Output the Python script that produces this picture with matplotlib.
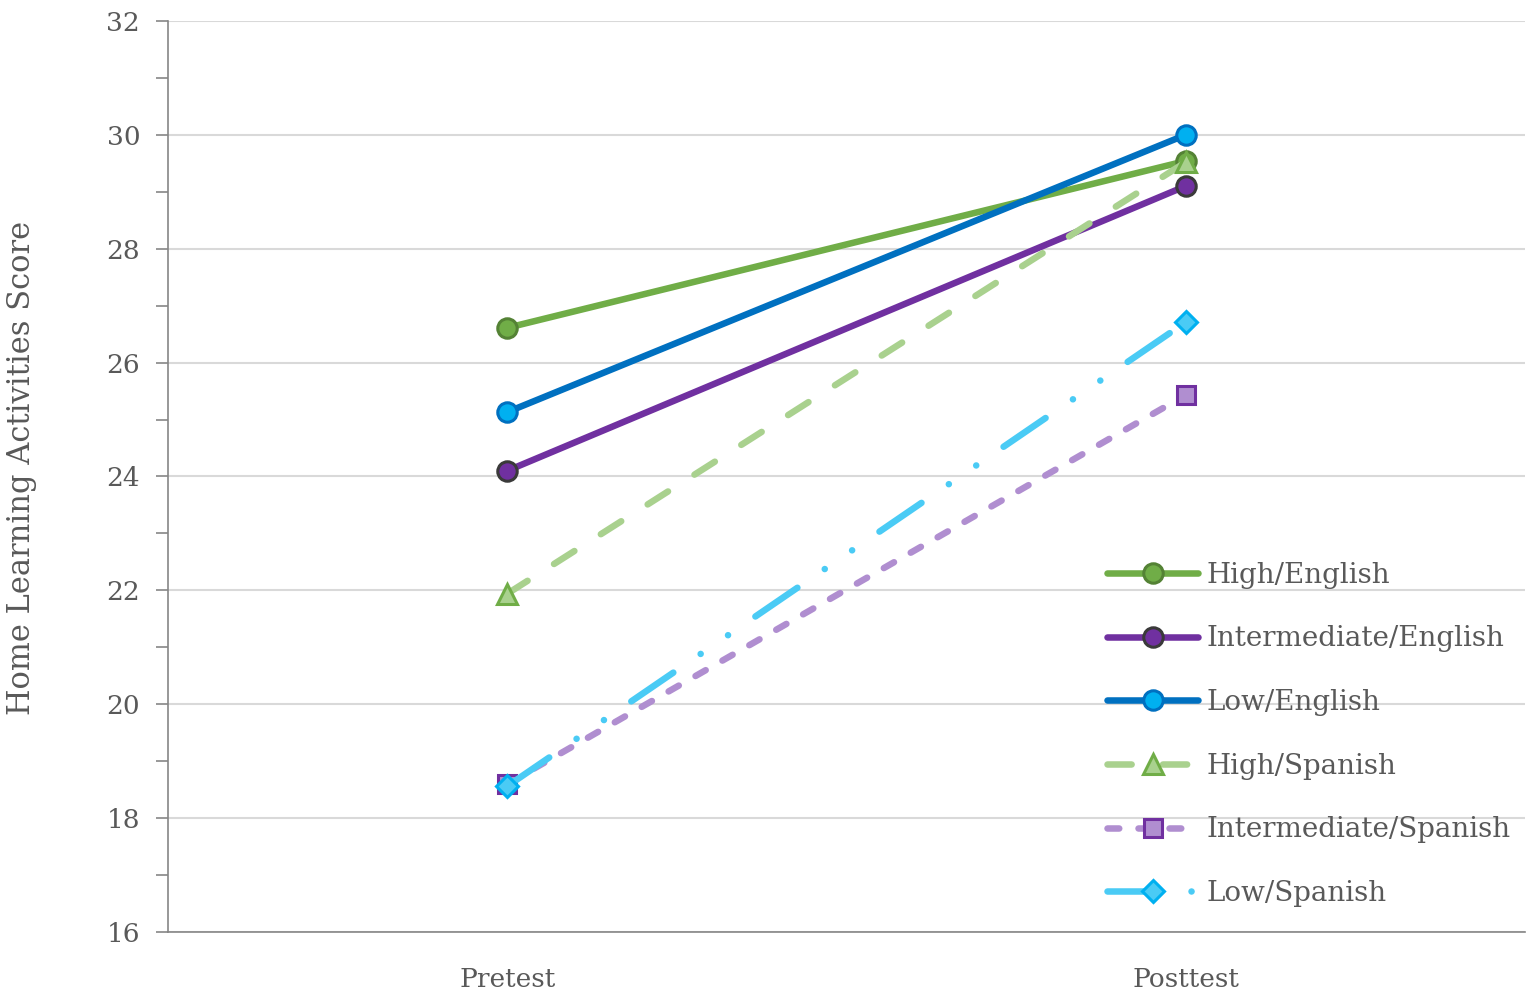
import matplotlib
matplotlib.use("Agg")
import matplotlib.pyplot as plt
from matplotlib.ticker import MultipleLocator

categories = ["Pretest", "Posttest"]
series_names = ["High/English", "Intermediate/English", "Low/English",
                "High/Spanish", "Intermediate/Spanish", "Low/Spanish"]
high_english = [26.61, 29.54]
intermediate_english = [24.10, 29.10]
low_english = [25.13, 30.00]
high_spanish = [21.94, 29.52]
intermediate_spanish = [18.60, 25.43]
low_spanish = [18.56, 26.71]
y_ticks = [16, 18, 20, 22, 24, 26, 28, 30, 32]

values = [high_english, intermediate_english, low_english,
          high_spanish, intermediate_spanish, low_spanish]
styles = [
    dict(color="#70AD47", ls="-", marker="o", mfc="#70AD47", mec="#548235", ms=14),
    dict(color="#7030A0", ls="-", marker="o", mfc="#7030A0", mec="#3A3A3A", ms=14),
    dict(color="#0070C0", ls="-", marker="o", mfc="#00B0F0", mec="#0070C0", ms=14),
    dict(color="#A9D18E", ls=(0, (3.7, 4.8)), marker="^", mfc="#A9D18E", mec="#70AD47", ms=14),
    dict(color="#B08ED0", ls=(0, (1.8, 2.95)), marker="s", mfc="#B08ED0", mec="#7030A0", ms=13),
    dict(color="#4ACBF5", ls=(0, (7.8, 5.07, 0.01, 5.07, 0.01, 5.07)), marker="D",
         mfc="#4ACBF5", mec="#00B0F0", ms=11),
]

plt.rcParams["font.family"] = ["DejaVu Serif"]
fig = plt.figure(figsize=(15.35, 9.97), dpi=100)
ax = fig.add_axes([0.1094, 0.0652, 0.8841, 0.9138])

x = [0.5, 1.5]
for name, vals, st in zip(series_names, values, styles):
    ax.plot(x, vals, label=name, lw=4.7, dash_capstyle="round",
            solid_capstyle="round", markeredgewidth=2.2, **st)

ax.set_xlim(0, 2)
ax.set_ylim(16, 32)
ax.set_xticks(x)
ax.set_xticklabels(categories)
ax.set_yticks(y_ticks)
ax.yaxis.set_minor_locator(MultipleLocator(1))
ax.grid(axis="y", which="major", color="#D9D9D9", lw=1.5)
ax.set_axisbelow(True)
for s in ["top", "right"]:
    ax.spines[s].set_visible(False)
for s in ["left", "bottom"]:
    ax.spines[s].set_color("#868686")
    ax.spines[s].set_linewidth(1.2)
ax.tick_params(axis="y", which="both", direction="out", length=9, width=1.2,
               color="#868686", labelsize=19, labelcolor="#595959", pad=11)
ax.tick_params(axis="x", length=0, labelsize=19, labelcolor="#595959", pad=25)
ax.set_ylabel("Home Learning Activities Score", fontsize=22, color="#595959")
ax.yaxis.set_label_coords(-0.0965, 0.509)

ax.legend(loc="lower right", bbox_to_anchor=(1.008, 0.0), frameon=False,
          fontsize=20, handlelength=3.3, labelspacing=1.32, handletextpad=0.3,
          labelcolor="#595959")

fig.savefig("out.png", dpi=100)
